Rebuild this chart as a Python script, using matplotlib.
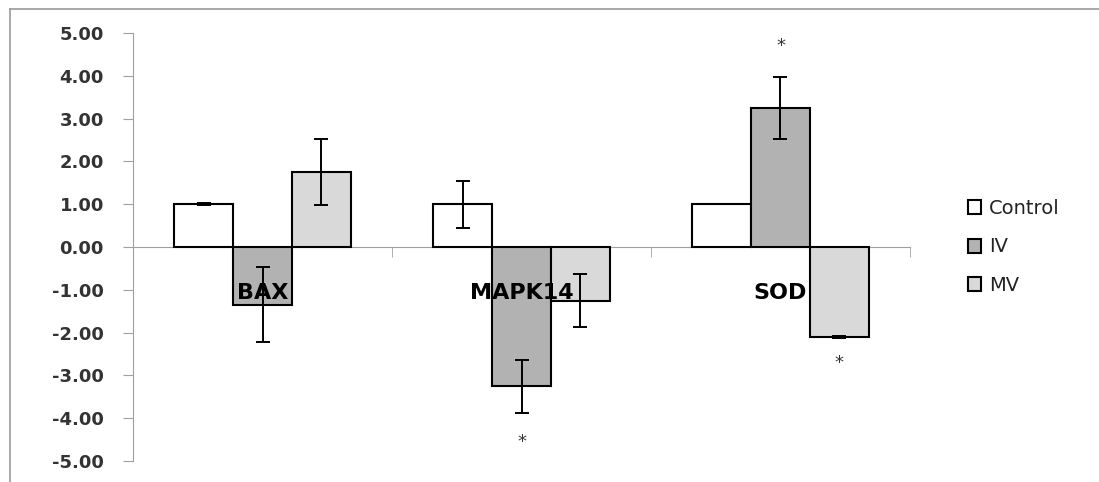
import numpy as np
import matplotlib.pyplot as plt
from matplotlib.lines import Line2D

# data
genes = ['BAX', 'MAPK14', 'SOD']
groups = ['Control', 'IV', 'MV']
control = [1.00, 1.00, 1.00]
control_err = [0.02, 0.55, 0.0]
iv = [-1.35, -3.25, 3.25]
iv_err = [0.88, 0.62, 0.73]
mv = [1.75, -1.25, -2.10]
mv_err = [0.77, 0.61, 0.02]
# significance asterisks: (gene index, group index, y)
stars = [(1, 1, -4.55), (2, 1, 4.70), (2, 2, -2.72)]

colors = ['white', '#b2b2b2', '#d9d9d9']
width = 0.227
offsets = [-width, 0, width]

fig = plt.figure(figsize=(10.99, 4.82), dpi=100)
ax = fig.add_axes([133/1099, 1-461/482, (910-133)/1099, (461-33)/482])
ax.set_axisbelow(False)

x = np.arange(len(genes))
series = [(control, control_err), (iv, iv_err), (mv, mv_err)]
for i, (vals, errs) in enumerate(series):
    ax.bar(x + offsets[i], vals, width, color=colors[i], edgecolor='black',
           linewidth=1.5, label=groups[i], zorder=2)
    ax.errorbar(x + offsets[i], vals, yerr=errs, fmt='none', ecolor='black',
                elinewidth=1.4, capsize=5, capthick=1.4, zorder=3)

for gi, si, yy in stars:
    ax.text(gi + offsets[si], yy, '*', ha='center', va='center',
            fontsize=13, color='#333333')

ax.set_xlim(-0.5, 2.5)
ax.set_ylim(-5, 5)
ax.set_yticks(np.arange(-5, 6, 1))
ax.set_yticklabels(['%.2f' % v for v in np.arange(-5, 6, 1)])

for s in ['top', 'right']:
    ax.spines[s].set_visible(False)
ax.spines['bottom'].set_position(('data', 0))
ax.spines['bottom'].set_color('#a0a0a0')
ax.spines['left'].set_color('#a0a0a0')
ax.spines['bottom'].set_zorder(1)

ax.set_xticks(x)
ax.set_xticklabels(genes, fontsize=16, fontweight='bold')
ax.tick_params(axis='x', which='major', length=0, pad=26)
ax.set_xticks([-0.5, 0.5, 1.5, 2.5], minor=True)
ax.tick_params(axis='x', which='minor', length=7, color='#a0a0a0', direction='out')
ax.tick_params(axis='y', length=7, color='#a0a0a0', labelsize=13, pad=14,
               labelcolor='#333333')
for t in ax.get_yticklabels():
    t.set_fontweight('bold')

handles = [plt.Rectangle((0, 0), 1, 1, facecolor=c, edgecolor='black', linewidth=1.5)
           for c in colors]
fig.legend(handles, groups, loc='center left', bbox_to_anchor=(950/1099, 1-247/482),
           frameon=False, fontsize=14, labelspacing=1.0, handlelength=0.7,
           handleheight=0.7, handletextpad=0.4, labelcolor='#222222')

# outer chart frame
fig.add_artist(Line2D([10/1099, 1], [1-9/482, 1-9/482], color='#9a9a9a', lw=1.2))
fig.add_artist(Line2D([10/1099, 10/1099], [0, 1-9/482], color='#9a9a9a', lw=1.2))

fig.savefig('out.png', dpi=100)
